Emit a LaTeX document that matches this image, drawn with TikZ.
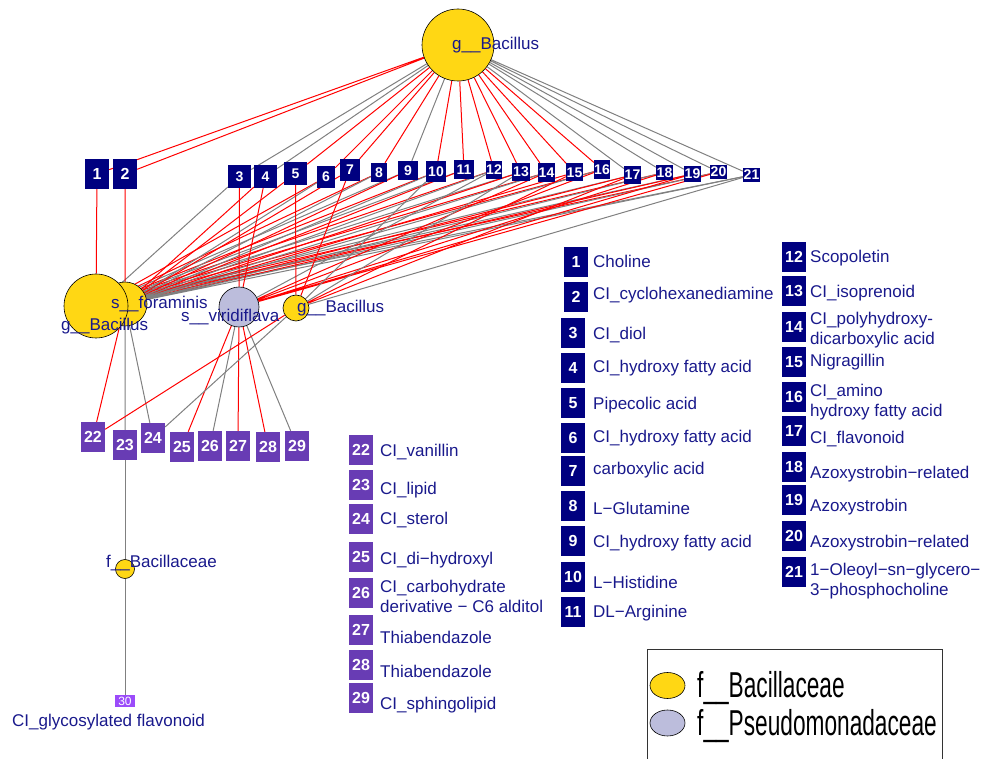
\documentclass[tikz,border=0pt]{standalone}
\usepackage{fontspec}
\setmainfont{Liberation Sans}
\usetikzlibrary{shapes.geometric,backgrounds}
\definecolor{bacyellow}{RGB}{255,215,20}
\definecolor{pselavender}{RGB}{188,189,220}
\definecolor{metabnavy}{RGB}{0,0,128}
\definecolor{lipidpurple}{RGB}{104,60,180}
\definecolor{flavviolet}{RGB}{155,75,250}
\definecolor{labelblue}{RGB}{25,25,140}
\definecolor{edgegray}{RGB}{128,128,128}

\tikzset{
  bacnode/.style={circle, draw=black, line width=0.6pt, fill=bacyellow, inner sep=0pt, minimum size=#1pt},
  psenode/.style={circle, draw=black, line width=0.6pt, fill=pselavender, inner sep=0pt, minimum size=#1pt},
  metab/.style 2 args={rectangle, fill=metabnavy, text=white, inner sep=0pt, font=\bfseries\fontsize{14}{14}\selectfont, minimum width=#1pt, minimum height=#2pt},
  keybox/.style={metab={24}{30}, font=\bfseries\fontsize{16}{16}\selectfont},
  lipid/.style={rectangle, fill=lipidpurple, text=white, inner sep=0pt, font=\bfseries\fontsize{16}{16}\selectfont, minimum width=24pt, minimum height=30pt},
  nodetxt/.style={text=labelblue, anchor=west, inner sep=0pt, font=\fontsize{17}{20}\selectfont},
  keytxt/.style={nodetxt, align=left},
  legtxt/.style={text=black, anchor=west, inner sep=0pt, font=\fontsize{36}{36}\selectfont},
  rededge/.style={draw=red, line width=1pt},
  grayedge/.style={draw=edgegray, line width=1pt}
}

\begin{document}
\begin{tikzpicture}[x=1pt, y=-1pt]
\useasboundingbox (0,0) rectangle (983,759);

% taxa
\node[bacnode=72] (gtop) at (458,45) {};
\node[bacnode=44] (sfor) at (125,304) {};
\node[bacnode=64] (gbig) at (96,306) {};
\node[psenode=40] (svir) at (239,307) {};
\node[bacnode=26] (gsmall) at (296,308) {};
\node[bacnode=19] (fbac) at (125,569) {};

% metabolites in the graph
\node[keybox] (m1) at (97,174) {1};
\node[keybox] (m2) at (125,174) {2};
\node[metab={23}{23}] (m3) at (239.5,176.5) {3};
\node[metab={23}{23}] (m4) at (265.5,176.5) {4};
\node[metab={23}{23}] (m5) at (295.5,173.5) {5};
\node[metab={18}{22}] (m6) at (326,177) {6};
\node[metab={20}{22}] (m7) at (350,170) {7};
\node[metab={16}{19}] (m8) at (379,172.5) {8};
\node[metab={20}{19}] (m9) at (408,170.5) {9};
\node[metab={20}{21}] (m10) at (436,172) {10};
\node[metab={20}{19}] (m11) at (464,169.5) {11};
\node[metab={16}{18}] (m12) at (494,170) {12};
\node[metab={18}{18}] (m13) at (521,172) {13};
\node[metab={17}{19}] (m14) at (546.5,172.5) {14};
\node[metab={17}{18}] (m15) at (574.5,172.5) {15};
\node[metab={16}{19}] (m16) at (602,169.5) {16};
\node[metab={17}{18}] (m17) at (632.5,175) {17};
\node[metab={17}{15}] (m18) at (664.5,172.5) {18};
\node[metab={17}{16}] (m19) at (692.5,174) {19};
\node[metab={17}{14}] (m20) at (718.5,172) {20};
\node[metab={17}{14}] (m21) at (751.5,175) {21};
\node[lipid] (m22) at (93,437) {22};
\node[lipid] (m23) at (125,445) {23};
\node[lipid] (m24) at (153,438) {24};
\node[lipid] (m25) at (182,447) {25};
\node[lipid] (m26) at (210,446) {26};
\node[lipid] (m27) at (238,446) {27};
\node[lipid] (m28) at (268,447) {28};
\node[lipid] (m29) at (297,446) {29};
\node[rectangle, fill=flavviolet, text=white, inner sep=0pt, font=\fontsize{12}{12}\selectfont, minimum width=20pt, minimum height=12pt] (m30) at (125,701) {30};

% edges
\begin{scope}[on background layer]
\draw[rededge] (gtop) -- (m1) (gtop) -- (m2) (gtop) -- (m5) (gtop) -- (m6) (gtop) -- (m7) (gtop) -- (m8) (gtop) -- (m10) (gtop) -- (m11) (gtop) -- (m12) (gtop) -- (m13) (gtop) -- (m14) (gtop) -- (m15) (gtop) -- (m16);
\draw[grayedge] (gtop) -- (m3) (gtop) -- (m4) (gtop) -- (m9) (gtop) -- (m17) (gtop) -- (m18) (gtop) -- (m19) (gtop) -- (m20) (gtop) -- (m21);
\draw[rededge] (gbig) -- (m1) (gbig) -- (m6) (gbig) -- (m8) (gbig) -- (m10) (gbig) -- (m12) (gbig) -- (m14) (gbig) -- (m16) (gbig) -- (m18) (gbig) -- (m20);
\draw[grayedge] (gbig) -- (m3) (gbig) -- (m9) (gbig) -- (m11) (gbig) -- (m13) (gbig) -- (m17) (gbig) -- (m19) (gbig) -- (m21);
\draw[rededge] (sfor) -- (m2) (sfor) -- (m4) (sfor) -- (m5) (sfor) -- (m7) (sfor) -- (m9) (sfor) -- (m11) (sfor) -- (m13) (sfor) -- (m15) (sfor) -- (m17) (sfor) -- (m19) (sfor) -- (m22);
\draw[grayedge] (sfor) -- (m6) (sfor) -- (m8) (sfor) -- (m10) (sfor) -- (m12) (sfor) -- (m14) (sfor) -- (m16) (sfor) -- (m18) (sfor) -- (m20) (sfor) -- (m21) (sfor) -- (m23) (sfor) -- (m24);
\draw[rededge] (svir) -- (m3) (svir) -- (m4) (svir) -- (m14) (svir) -- (m16) (svir) -- (m18) (svir) -- (m19) (svir) -- (m20) (svir) -- (m25) (svir) -- (m27) (svir) -- (m28);
\draw[grayedge] (svir) -- (m12) (svir) -- (m26) (svir) -- (m29);
\draw[rededge] (gsmall) -- (m5) (gsmall) -- (m7) (gsmall) -- (m15) (gsmall) -- (m17) (gsmall) -- (m22);
\draw[grayedge] (gsmall) -- (m10) (gsmall) -- (m13) (gsmall) -- (m21) (gsmall) -- (m24);
\draw[grayedge] (fbac) -- (m23) (fbac) -- (m30);
\end{scope}

% taxa labels
\node[nodetxt] (gtoplbl) at (452,45) {g\_\_Bacillus};
\node[nodetxt] (sforlbl) at (111,304) {s\_\_foraminis};
\node[nodetxt] (gbiglbl) at (61,326) {g\_\_Bacillus};
\node[nodetxt] (svirlbl) at (181,317) {s\_\_viridiflava};
\node[nodetxt] (gsmalllbl) at (297,308) {g\_\_Bacillus};
\node[nodetxt] (fbaclbl) at (106,563) {f\_\_Bacillaceae};
\node[nodetxt] (m30lbl) at (12,722) {CI\_glycosylated flavonoid};

% key, 1--11
\node[keybox] (key1) at (576,262) {1};
\node[keybox] (key2) at (576,297) {2};
\node[keybox] (key3) at (573,333) {3};
\node[keybox] (key4) at (573,368) {4};
\node[keybox] (key5) at (573,403) {5};
\node[keybox] (key6) at (573,438) {6};
\node[keybox] (key7) at (573,471) {7};
\node[keybox] (key8) at (573,506) {8};
\node[keybox] (key9) at (573,541) {9};
\node[keybox] (key10) at (573,577) {10};
\node[keybox] (key11) at (573,612) {11};
\node[keytxt] (txt1) at (593,261) {Choline};
\node[keytxt] (txt2) at (593,295) {CI\_cyclohexanediamine};
\node[keytxt] (txt3) at (593,335) {CI\_diol};
\node[keytxt] (txt4) at (593,368) {CI\_hydroxy fatty acid};
\node[keytxt] (txt5) at (593,405) {Pipecolic acid};
\node[keytxt] (txt6) at (593,438) {CI\_hydroxy fatty acid};
\node[keytxt] (txt7) at (593,470) {carboxylic acid};
\node[keytxt] (txt8) at (593,508) {L−Glutamine};
\node[keytxt] (txt9) at (593,543) {CI\_hydroxy fatty acid};
\node[keytxt] (txt10) at (593,582) {L−Histidine};
\node[keytxt] (txt11) at (593,613) {DL−Arginine};

% key, 12--21
\node[keybox] (key12) at (794,257) {12};
\node[keybox] (key13) at (794,291) {13};
\node[keybox] (key14) at (794,327) {14};
\node[keybox] (key15) at (794,362) {15};
\node[keybox] (key16) at (794,397) {16};
\node[keybox] (key17) at (794,431) {17};
\node[keybox] (key18) at (794,467) {18};
\node[keybox] (key19) at (794,500) {19};
\node[keybox] (key20) at (794,536) {20};
\node[keybox] (key21) at (794,572) {21};
\node[keytxt] (txt12) at (810,258) {Scopoletin};
\node[keytxt] (txt13) at (810,293) {CI\_isoprenoid};
\node[keytxt] (txt14) at (810,330) {CI\_polyhydroxy-\\dicarboxylic acid};
\node[keytxt] (txt15) at (810,362) {Nigragillin};
\node[keytxt] (txt16) at (810,402) {CI\_amino\\hydroxy fatty acid};
\node[keytxt] (txt17) at (810,439) {CI\_flavonoid};
\node[keytxt] (txt18) at (810,474) {Azoxystrobin−related};
\node[keytxt] (txt19) at (810,507) {Azoxystrobin};
\node[keytxt] (txt20) at (810,543) {Azoxystrobin−related};
\node[keytxt] (txt21) at (810,581) {1−Oleoyl−sn−glycero−\\3−phosphocholine};

% key, 22--29
\node[lipid] (key22) at (361,450) {22};
\node[lipid] (key23) at (361,485) {23};
\node[lipid] (key24) at (361,519) {24};
\node[lipid] (key25) at (361,557) {25};
\node[lipid] (key26) at (361,593) {26};
\node[lipid] (key27) at (361,630) {27};
\node[lipid] (key28) at (361,665) {28};
\node[lipid] (key29) at (361,698) {29};
\node[keytxt] (txt22) at (380,452) {CI\_vanillin};
\node[keytxt] (txt23) at (380,490) {CI\_lipid};
\node[keytxt] (txt24) at (380,520) {CI\_sterol};
\node[keytxt] (txt25) at (380,560) {CI\_di−hydroxyl};
\node[keytxt] (txt26) at (380,596) {CI\_carbohydrate\\derivative − C6 alditol};
\node[keytxt] (txt27) at (380,637) {Thiabendazole};
\node[keytxt] (txt28) at (380,671) {Thiabendazole};
\node[keytxt] (txt29) at (380,705) {CI\_sphingolipid};

% legend
\node[rectangle, draw=black!80, line width=0.6pt, minimum width=295pt, minimum height=130pt, anchor=north west] (legend) at (647,649) {};
\node[ellipse, draw=black, line width=0.6pt, fill=bacyellow, inner sep=0pt, minimum width=35pt, minimum height=26pt] (legbac) at (667.5,685.5) {};
\node[ellipse, draw=black, line width=0.6pt, fill=pselavender, inner sep=0pt, minimum width=35pt, minimum height=26pt] (legpse) at (667.5,723) {};
\node[legtxt] (legbactxt) at (697,688) {\scalebox{0.63}[1]{f\_\_Bacillaceae}};
\node[legtxt] (legpsetxt) at (697,726) {\scalebox{0.63}[1]{f\_\_Pseudomonadaceae}};
\end{tikzpicture}
\end{document}
